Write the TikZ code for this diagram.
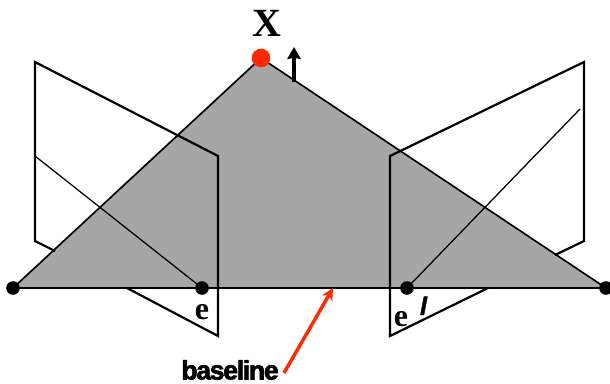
\documentclass[tikz,border=0pt]{standalone}
\usepackage{fontspec}
\setmainfont{Liberation Serif}
\newfontfamily\labelsans[LetterSpace=-5,FakeBold=2.2]{Liberation Sans}
\newfontfamily\linesans[FakeBold=1.5]{Liberation Sans}
\definecolor{planegray}{HTML}{A6A6A6}
\definecolor{xred}{HTML}{FF2A00}
\usetikzlibrary{arrows.meta}
\tikzset{
  thickline/.style={line width=1.65pt,black,line join=miter},
  midline/.style={line width=1.25pt,black},
  thinline/.style={line width=0.95pt,black},
  camdot/.style={circle,fill=black,inner sep=0pt,minimum size=10.2pt},
  pointdot/.style={circle,fill=xred,inner sep=0pt,minimum size=14pt},
  lab/.style={inner sep=0pt,font=\bfseries}
}
\begin{document}
\begin{tikzpicture}[x=0.75pt,y=-0.75pt]
\useasboundingbox (0,0) rectangle (610,383);
% reference points
\coordinate (LA) at (35,62);
\coordinate (LB) at (218,156);
\coordinate (LC) at (218,336);
\coordinate (LD) at (127,288);
\coordinate (LE) at (35,241);
\coordinate (LF) at (55,251);
\coordinate (LG) at (35,156);
\coordinate (RA) at (584,62);
\coordinate (RB) at (390,156);
\coordinate (RC) at (390,336);
\coordinate (RD) at (488,288);
\coordinate (RE) at (584,241);
\coordinate (RF) at (555,255);
\coordinate (RG) at (580,109);
\coordinate (AT) at (294,82);
\coordinate (AH) at (294,47);
\coordinate (BT) at (284,373);
\coordinate (BH) at (333,288);
\coordinate (CL) at (13,288);
\coordinate (CR) at (606,288);
\coordinate (XP) at (261,58);
\coordinate (EL) at (202,288);
\coordinate (ER) at (407,288);
% epipolar plane
\fill[planegray] (CL) -- (XP) -- (CR) -- cycle;
% image planes
\draw[thickline] (LF) -- (LE) -- (LA) -- (LB) -- (LC) -- (LD);
\draw[thickline] (RF) -- (RE) -- (RA) -- (RB) -- (RC) -- (RD);
\draw[thinline] (LG) -- (EL);
\draw[thinline] (RG) -- (ER);
% triangle
\draw[midline] (CL) -- (XP) -- (CR);
\draw[midline] (CL) -- (CR);
% arrows
\draw[line width=2.3pt,-{Stealth[length=9pt,width=10pt,inset=1pt]}] (AT) -- (AH);
\draw[line width=2.6pt,xred,-{Stealth[length=9pt,width=9pt]}] (BT) -- (BH);
% dots
\node[camdot] (c1) at (CL) {};
\node[camdot] (c2) at (CR) {};
\node[camdot] (e1) at (EL) {};
\node[camdot] (e2) at (ER) {};
\node[pointdot] (x) at (XP) {};
% labels
\node[lab,font=\bfseries\fontsize{30}{30}\selectfont,anchor=base] (xl) at (267,36) {X};
\node[lab,font=\bfseries\fontsize{24}{24}\selectfont,anchor=base] (el) at (202,319) {e};
\node[lab,font=\bfseries\fontsize{24}{24}\selectfont,anchor=base] (er) at (401,326) {e};
\node[lab,font=\linesans\bfseries\itshape\fontsize{19}{19}\selectfont,anchor=base] (ll) at (423.5,315) {l};
\node[inner sep=0pt,anchor=base] (bl) at (230,379.5) {\labelsans\bfseries\fontsize{20}{20}\selectfont baseline};
\end{tikzpicture}
\end{document}
